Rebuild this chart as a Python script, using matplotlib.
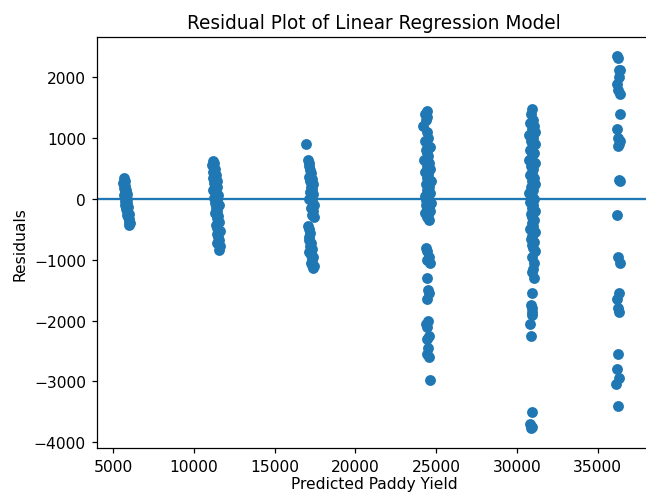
import matplotlib
matplotlib.use("Agg")
import matplotlib.pyplot as plt

# Cluster 1 (~5750)
x1 = [5650, 5700, 5630, 5750, 5670, 5800, 5730, 5850, 5690, 5770, 5830, 5710, 5870, 5750,
      5900, 5800, 5850, 5950, 5830, 5910, 6000, 5950, 6030, 5970]
y1 = [340, 300, 260, 220, 180, 150, 120, 90, 60, 30, 0, -30, -60, -100,
      -130, -170, -200, -240, -270, -300, -330, -370, -400, -430]

# Cluster 2 (~11300)
x2 = [11150, 11250, 11100, 11300, 11200, 11350, 11150, 11400, 11250, 11300, 11450, 11200,
      11350, 11500, 11250, 11400, 11300, 11550, 11350, 11450, 11300, 11500, 11400, 11550,
      11350, 11450, 11600, 11400, 11500, 11550, 11450, 11600, 11550]
y2 = [620, 600, 560, 500, 450, 400, 350, 300, 270, 230, 200, 150,
      100, 60, 20, -20, -60, -100, -150, -200, -230, -280, -320, -380,
      -430, -480, -520, -580, -620, -680, -720, -780, -840]

# Cluster 3 (~17200)
x3 = [16950, 17050, 17150, 17100, 17200, 17250, 17150, 17300, 17200, 17350, 17250, 17300,
      17200, 17350, 17250, 17100, 17300, 17400, 17250, 17350, 17300, 17400,
      17050, 17100, 17200, 17150, 17100, 17250, 17200, 17300, 17150, 17250, 17350, 17300,
      17250, 17400, 17350, 17300]
y3 = [900, 650, 600, 550, 480, 420, 370, 330, 300, 250, 200, 170,
      120, 80, 40, 0, -40, -100, -150, -200, -260, -300,
      -450, -500, -560, -620, -680, -720, -770, -820, -870, -920, -960, -1000,
      -1060, -1100, -1130, -1080]

# Cluster 4 (~24500)
x4 = [24400, 24300, 24450, 24350, 24200, 24400, 24500, 24300, 24450, 24600, 24350, 24500,
      24250, 24550, 24400, 24600, 24300, 24500, 24450, 24650, 24350, 24550, 24400, 24600,
      24300, 24500, 24450, 24650, 24350, 24550, 24400, 24600, 24300, 24500, 24450, 24550,
      24400, 24350,
      24350, 24450, 24550, 24400, 24600, 24450, 24500, 24550, 24400, 24500, 24350, 24400,
      24550, 24400, 24500, 24450, 24550, 24600]
y4 = [1450, 1400, 1350, 1300, 1200, 1100, 1000, 950, 900, 850, 800, 700,
      650, 600, 550, 500, 450, 400, 350, 300, 250, 200, 150, 100,
      50, 0, -30, -60, -100, -130, -160, -200, -230, -260, -300, -350,
      750, -10,
      -800, -850, -950, -1000, -1050, -1300, -1500, -1550, -1650, -2000, -2050, -2100,
      -2250, -2300, -2450, -2550, -2600, -2980]

# Cluster 5 (~30900)
x5 = [30900, 30850, 31000, 30800, 31050, 30900, 31100, 30750, 31000, 30850, 31100, 30900,
      30800, 31050, 30950, 30750, 31100, 30850, 31000, 30900, 30800, 31050, 30950, 31100,
      30850, 31000, 30750, 30900, 31050, 30800, 31000, 30900, 31100, 30850, 30950, 31050,
      30900, 31000, 30800, 31100, 30950, 30850, 31050, 30900, 31000, 31100, 30950, 31050,
      31000, 30900, 31050, 30950, 30850, 30900, 30800, 30850, 30900, 30950,
      30800, 30850, 30900, 30900]
y5 = [1480, 1400, 1300, 1250, 1200, 1150, 1100, 1050, 1000, 950, 900, 850,
      800, 750, 700, 650, 600, 550, 500, 450, 400, 350, 300, 250,
      200, 150, 100, 50, 0, -50, -100, -150, -200, -250, -300, -350,
      -400, -450, -500, -550, -600, -650, -700, -750, -800, -850, -950, -1050,
      -1150, -1200, -1300, -1550, -1750, -1800, -2050, -2250, -3500, -3750,
      -3700, -3760, -1850, -1900]

# Cluster 6 (~36300)
x6 = [36200, 36250, 36350, 36300, 36200, 36250, 36400, 36350, 36200, 36250, 36350, 36300,
      36250, 36300, 36350, 36200, 36250, 36350, 36300, 36200, 36250, 36300, 36250, 36200,
      36300, 36150, 36250, 36300]
y6 = [2350, 2320, 2130, 2120, 1900, 1800, 1720, 1400, 1150, 1000, 950, 900,
      870, 320, 300, -270, -950, -1050, -1550, -1650, -1800, -1850, -2550, -2800,
      -2950, -3050, -3400, 2000]

DPI = 111.3
fig = plt.figure(figsize=(646 / DPI, 493 / DPI), dpi=DPI)
ax = fig.add_axes([96.7 / 646, (493 - 449) / 493, (651 - 96.7) / 646, (449 - 38.3) / 493])

for xs, ys in [(x1, y1), (x2, y2), (x3, y3), (x4, y4), (x5, y5), (x6, y6)]:
    ax.scatter(xs, ys, color="C0")
ax.axhline(0, color="C0")

ax.set_xlim(3973, 38300)
ax.set_ylim(-4095, 2660)
ax.set_xticks([5000, 10000, 15000, 20000, 25000, 30000, 35000])
ax.set_yticks([-4000, -3000, -2000, -1000, 0, 1000, 2000])
ax.set_title("Residual Plot of Linear Regression Model")
ax.set_xlabel("Predicted Paddy Yield", labelpad=1.5)
ax.set_ylabel("Residuals")

fig.savefig("out.png", dpi=DPI)
